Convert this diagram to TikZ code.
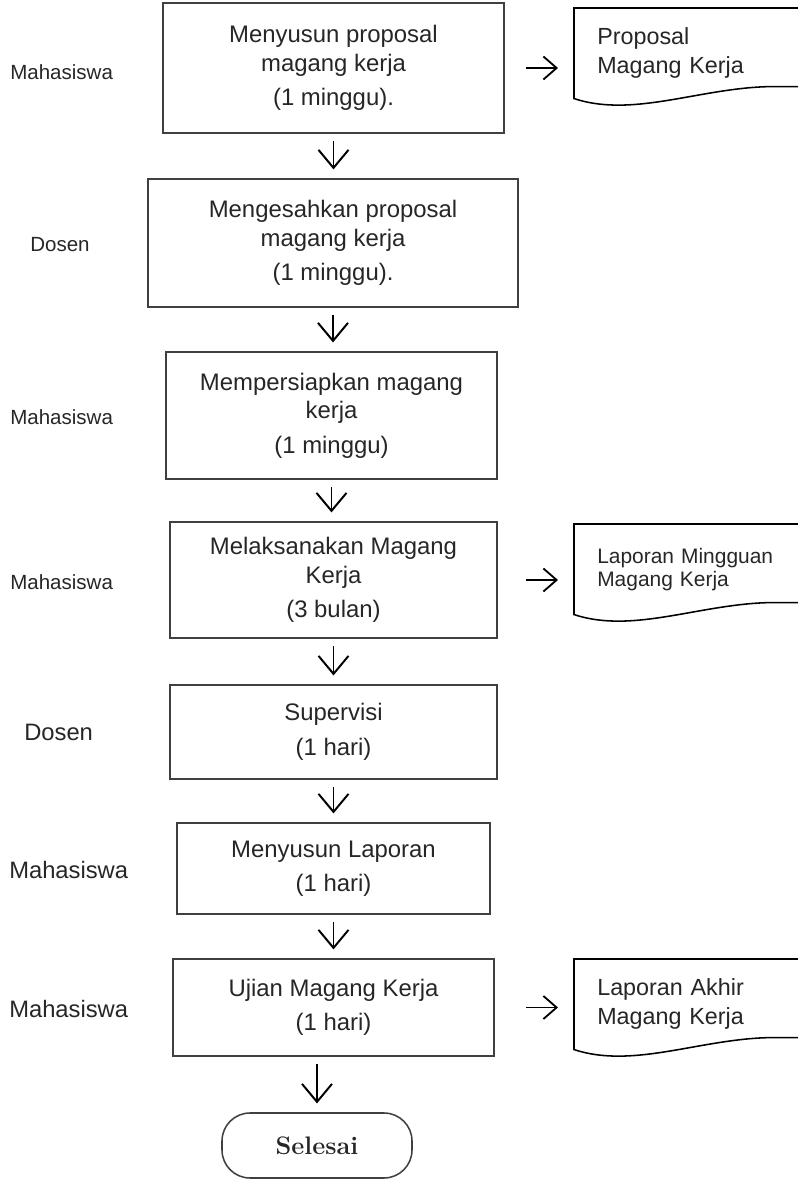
\documentclass[tikz,border=0pt]{standalone}
\usepackage{fontspec}
\usetikzlibrary{arrows.meta}
\usetikzlibrary{calc}
\newfontfamily\arialfont{Liberation Sans}
\definecolor{ink}{HTML}{262626}
\definecolor{boxgray}{HTML}{404040}
\newcommand{\docshape}[1] % name of the document node
{
	% top edge and left side
	\draw[docline] (#1.north east) -- (#1.north west) -- (#1.south west)
	% wavy bottom edge
		.. controls +(1.5,-0.5) and ($(#1.south east)+(-2.4,0.3)$) .. ($(#1.south east)+(-0.6,0.3)$)
		-- ($(#1.south east)+(0,0.3)$);
}

\begin{document}
\begin{tikzpicture}[
	task/.style={draw=boxgray, line width=1.1pt, text=ink, align=center, inner sep=0pt,
		font=\arialfont\fontsize{17}{20.5}\selectfont},
	who/.style={text=ink, inner sep=0pt, anchor=west, font=\arialfont\fontsize{14.6}{17}\selectfont},
	whobig/.style={who, font=\arialfont\fontsize{16.9}{20}\selectfont},
	doc/.style={anchor=north west, text=ink, align=left, inner xsep=0.575cm, inner ysep=0pt,
		text width=4.45cm, minimum width=5.6cm, minimum height=2.25cm,
		font=\arialfont\fontsize{16.6}{20.5}\selectfont},
	docsmall/.style={doc, font=\arialfont\fontsize{14.9}{16.5}\selectfont},
	docline/.style={line width=1.1pt},
	darr/.style={line width=1.4pt, -{Straight Barb[length=0.45cm, width=0.75cm]},
		shorten <=0.18cm, shorten >=0.22cm},
	harr/.style={line width=1.3pt, -{Straight Barb[length=0.33cm, width=0.575cm]}, shorten >=0.4cm},
	term/.style={draw=boxgray, line width=1.1pt, rounded corners=0.7cm, text=ink,
		minimum width=4.75cm, minimum height=1.625cm, font=\fontsize{18}{22}\selectfont\bfseries}
]
	% page 798 x 1181 px, 40 px per cm
	\useasboundingbox (0, 0) rectangle (19.95, 29.525);

	% who does what
	\node[who] (w1) at (0.25, 27.725) {Mahasiswa};
	\node[who] (w2) at (0.75, 23.4) {Dosen};
	\node[who] (w3) at (0.25, 19.1) {Mahasiswa};
	\node[who] (w4) at (0.25, 14.975) {Mahasiswa};
	\node[whobig] (w5) at (0.6, 11.225) {Dosen};
	\node[whobig] (w6) at (0.225, 7.775) {Mahasiswa};
	\node[whobig] (w7) at (0.225, 4.3) {Mahasiswa};

	% steps
	\node[task, minimum width=8.525cm, minimum height=3.25cm] (b1) at (8.3375, 27.825)
		{Menyusun proposal\\magang kerja\\[4pt](1 minggu).};
	\node[task, minimum width=9.25cm, minimum height=3.2cm] (b2) at (8.325, 23.45)
		{Mengesahkan proposal\\magang kerja\\[4pt](1 minggu).};
	\node[task, minimum width=8.275cm, minimum height=3.175cm] (b3) at (8.2875, 19.1375)
		{Mempersiapkan magang\\kerja\\[4pt](1 minggu)};
	\node[task, minimum width=8.175cm, minimum height=2.9cm] (b4) at (8.3375, 15.025)
		{Melaksanakan Magang\\Kerja\\[4pt](3 bulan)};
	\node[task, minimum width=8.175cm, minimum height=2.35cm] (b5) at (8.3375, 11.225)
		{Supervisi\\[4pt](1 hari)};
	\node[task, minimum width=7.825cm, minimum height=2.275cm] (b6) at (8.3375, 7.8125)
		{Menyusun Laporan\\[4pt](1 hari)};
	\node[task, minimum width=8.025cm, minimum height=2.425cm] (b7) at (8.3375, 4.3375)
		{Ujian Magang Kerja\\[4pt](1 hari)};
	\node[term] (sel) at (7.925, 0.8875) {Selesai};

	% documents
	\node[doc] (d1) at (14.35, 29.325) {Proposal\\Magang Kerja};
	\node[docsmall] (d2) at (14.35, 16.425) {Laporan Mingguan\\Magang Kerja};
	\node[doc] (d3) at (14.35, 5.55) {Laporan Akhir\\Magang Kerja};
	\docshape{d1};
	\docshape{d2};
	\docshape{d3};

	% flow
	\draw[darr] (b1.south) -- (b1.south |- b2.north);
	\draw[darr] (b2.south) -- (b2.south |- b3.north);
	\draw[darr] (b3.south) -- (b3.south |- b4.north);
	\draw[darr] (b4.south) -- (b4.south |- b5.north);
	\draw[darr] (b5.south) -- (b5.south |- b6.north);
	\draw[darr] (b6.south) -- (b6.south |- b7.north);
	\draw[darr] (sel |- b7.south) -- (sel.north);

	\draw[harr, shorten <=0.525cm] (b1.east) -- (b1.east -| d1.west);
	\draw[harr, shorten <=0.7cm] (b4.east) -- (b4.east -| d2.west);
	\draw[harr, shorten <=0.775cm] (b7.east) -- (b7.east -| d3.west);
\end{tikzpicture}
\end{document}
